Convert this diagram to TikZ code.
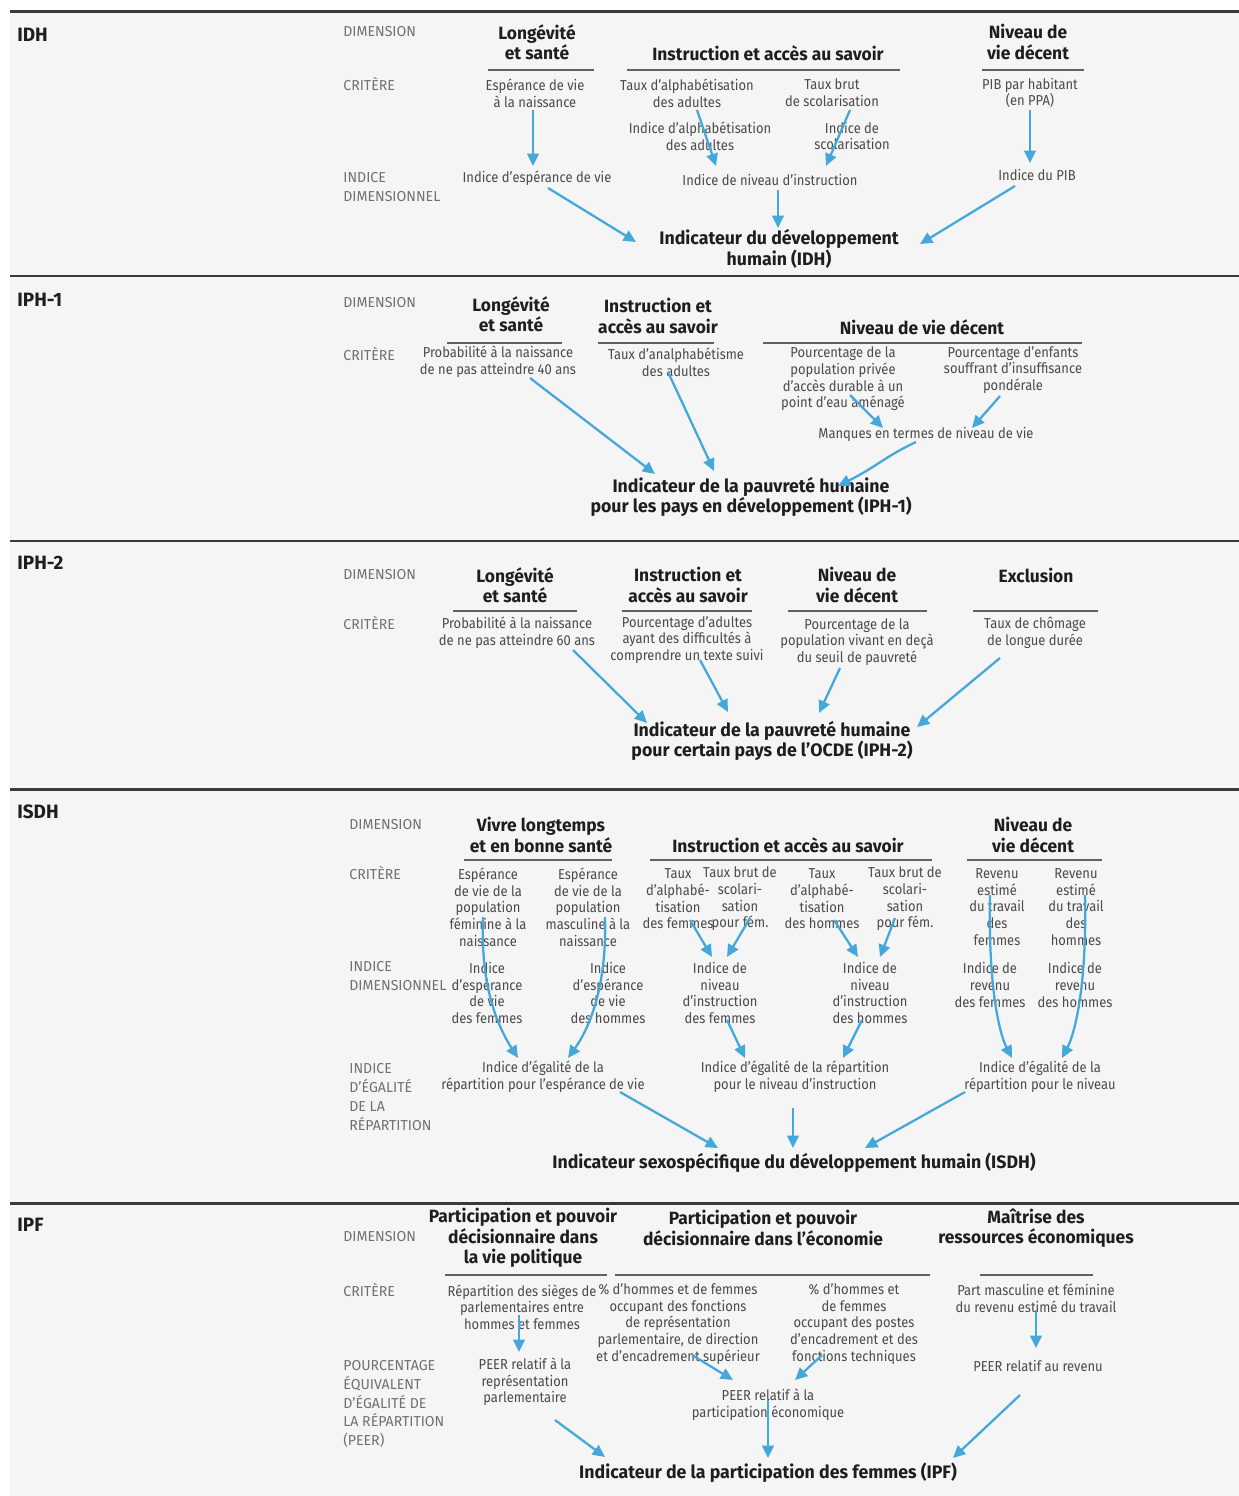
\documentclass[tikz,border=0pt]{standalone}
\usepackage{fontspec}
\setmainfont{Fira Sans}[FakeStretch=0.9]
\newfontfamily\headfont{Fira Sans}[FakeStretch=0.98, Ligatures=TeX]
\usetikzlibrary{arrows.meta,calc}
\definecolor{bgcol}{HTML}{F5F5F5}
\definecolor{rulecol}{HTML}{3A3A3A}
\definecolor{txtcol}{HTML}{1E1E1E}
\definecolor{critcol}{HTML}{4A4A4A}
\definecolor{labcol}{HTML}{707070}
\definecolor{arrcol}{HTML}{45A8DB}
\tikzset{
  sect/.style={anchor=west, inner sep=0pt, text=txtcol, font=\headfont\fontsize{11}{13}\selectfont\bfseries},
  rowlab/.style={anchor=west, align=left, inner sep=0pt, text=labcol, font=\headfont\fontsize{8.2}{10.8}\selectfont},
  dimtxt/.style={align=center, inner sep=0pt, text=txtcol, font=\headfont\fontsize{10.1}{11.6}\selectfont\bfseries},
  crit/.style={align=center, inner sep=0pt, text=critcol, font=\fontsize{8.2}{9.5}\selectfont},
  ttl/.style={dimtxt, font=\headfont\fontsize{10.3}{11.8}\selectfont\bfseries},
  arr/.style={draw=arrcol, line width=1.3pt, -{Triangle[length=7pt,width=6.5pt]}},
  dimrule/.style={draw=rulecol!80, line width=0.8pt},
  secrule/.style={draw=rulecol, line width=1.7pt}
}
\begin{document}
\begin{tikzpicture}[x=0.02cm, y=-0.02cm]
\useasboundingbox (0,0) rectangle (1239,1496);
\fill[bgcol] (10,12) rectangle (1239,1496);
\foreach \yy in {12,276,541,789,1203}
  \draw[secrule] (10,\yy) -- (1239,\yy);

% IDH
\node[sect] (idhL) at (17,35) {IDH};
\node[rowlab] (idhRd) at (343,32) {DIMENSION};
\node[rowlab] (idhRc) at (343,84) {CRITÈRE};
\node[rowlab] (idhRi) at (343,187) {INDICE\\DIMENSIONNEL};
\node[dimtxt] (idhD1) at (537,42) {Longévité\\et santé};
\node[dimtxt] (idhD2) at (768,53) {Instruction et accès au savoir};
\node[dimtxt] (idhD3) at (1028,42) {Niveau de\\vie décent};
\draw[dimrule] (488,70) -- (594,70);
\draw[dimrule] (627,70) -- (900,70);
\draw[dimrule] (982,70) -- (1084,70);
\node[crit] (idhC1) at (535,93) {Espérance de vie\\à la naissance};
\node[crit] (idhC2) at (687,93) {Taux d'alphabétisation\\des adultes};
\node[crit] (idhC3) at (832,93) {Taux brut\\de scolarisation};
\node[crit] (idhC4) at (1030,93) {PIB par habitant\\(en PPA)};
\node[crit] (idhS1) at (700,136) {Indice d'alphabétisation\\des adultes};
\node[crit] (idhS2) at (852,136) {Indice de\\scolarisation};
\node[crit] (idhI1) at (537,178) {Indice d'espérance de vie};
\node[crit] (idhI2) at (770,180) {Indice de niveau d'instruction};
\node[crit] (idhI3) at (1037,175) {Indice du PIB};
\node[ttl] (idhT) at (779,249) {Indicateur du développement\\humain (IDH)};
\draw[arr] ($(idhC1)+(-2,17)$) -- ($(idhI1)+(-4,-12)$);
\draw[arr] ($(idhC2)+(10,17)$) -- ($(idhI2)+(-54,-14)$);
\draw[arr] ($(idhC3)+(18,17)$) -- ($(idhI2)+(56,-14)$);
\draw[arr] ($(idhC4)+(0,17)$) -- ($(idhI3)+(-7,-12)$);
\draw[arr] ($(idhI1)+(11,10)$) -- ($(idhT)+(-143,-7)$);
\draw[arr] ($(idhI2)+(8,10)$) -- ($(idhT)+(-1,-21)$);
\draw[arr] ($(idhI3)+(-22,11)$) -- ($(idhT)+(141,-5)$);

% IPH-1
\node[sect] (h1L) at (17,300) {IPH-1};
\node[rowlab] (h1Rd) at (343,303) {DIMENSION};
\node[rowlab] (h1Rc) at (343,354) {CRITÈRE};
\node[dimtxt] (h1D1) at (511,314) {Longévité\\et santé};
\node[dimtxt] (h1D2) at (658,316) {Instruction et\\accès au savoir};
\node[dimtxt] (h1D3) at (922,327) {Niveau de vie décent};
\draw[dimrule] (447,343) -- (562,343);
\draw[dimrule] (598,343) -- (714,343);
\draw[dimrule] (763,343) -- (1082,343);
\node[crit] (h1C1) at (498,362) {Probabilité à la naissance\\de ne pas atteindre 40 ans};
\node[crit] (h1C2) at (676,362) {Taux d'analphabétisme\\des adultes};
\node[crit] (h1C3) at (843,379) {Pourcentage de la\\population privée\\d'accès durable à un\\point d'eau aménagé};
\node[crit] (h1C4) at (1013,370) {Pourcentage d'enfants\\souffrant d'insuffisance\\pondérale};
\node[crit] (h1M) at (926,434) {Manques en termes de niveau de vie};
\node[ttl] (h1T) at (751,497) {Indicateur de la pauvreté humaine\\pour les pays en développement (IPH-1)};
\draw[arr] ($(h1C1)+(32,16)$) -- ($(h1T)+(-96,-23)$);
\draw[arr] ($(h1C2)+(-8,10)$) -- ($(h1T)+(-37,-26)$);
\draw[arr] ($(h1C3)+(7,16)$) -- ($(h1M)+(-43,-6)$);
\draw[arr] ($(h1C4)+(-13,26)$) -- ($(h1M)+(46,-6)$);
\draw[arr] ($(h1M)+(-10,8)$) .. controls ($(h1M)+(-40,22)$) and ($(h1T)+(125,-30)$) .. ($(h1T)+(87,-11)$);

% IPH-2
\node[sect] (h2L) at (17,563) {IPH-2};
\node[rowlab] (h2Rd) at (343,575) {DIMENSION};
\node[rowlab] (h2Rc) at (343,623) {CRITÈRE};
\node[dimtxt] (h2D1) at (515,585) {Longévité\\et santé};
\node[dimtxt] (h2D2) at (688,585) {Instruction et\\accès au savoir};
\node[dimtxt] (h2D3) at (857,585) {Niveau de\\vie décent};
\node[dimtxt] (h2D4) at (1036,575) {Exclusion};
\draw[dimrule] (453,611) -- (577,611);
\draw[dimrule] (622,611) -- (752,611);
\draw[dimrule] (788,611) -- (927,611);
\draw[dimrule] (973,611) -- (1098,611);
\node[crit] (h2C1) at (517,633) {Probabilité à la naissance\\de ne pas atteindre 60 ans};
\node[crit] (h2C2) at (687,640) {Pourcentage d'adultes\\ayant des difficultés à\\comprendre un texte suivi};
\node[crit] (h2C3) at (857,642) {Pourcentage de la\\population vivant en deçà\\du seuil de pauvreté};
\node[crit] (h2C4) at (1035,633) {Taux de chômage\\de longue durée};
\node[ttl] (h2T) at (772,741) {Indicateur de la pauvreté humaine\\pour certain pays de l'OCDE (IPH-2)};
\draw[arr] ($(h2C1)+(56,17)$) -- ($(h2T)+(-125,-18)$);
\draw[arr] ($(h2C2)+(13,20)$) -- ($(h2T)+(-44,-29)$);
\draw[arr] ($(h2C3)+(-17,26)$) -- ($(h2T)+(47,-28)$);
\draw[arr] ($(h2C4)+(-35,25)$) -- ($(h2T)+(145,-14)$);

% ISDH
\node[sect] (sL) at (17,812) {ISDH};
\node[rowlab] (sRd) at (349,825) {DIMENSION};
\node[rowlab] (sRc) at (349,873) {CRITÈRE};
\node[rowlab] (sRi) at (349,976) {INDICE\\DIMENSIONNEL};
\node[rowlab] (sRe) at (349,1097) {INDICE\\D'ÉGALITÉ\\DE LA\\RÉPARTITION};
\node[dimtxt] (sD1) at (541,835) {Vivre longtemps\\et en bonne santé};
\node[dimtxt] (sD2) at (788,845) {Instruction et accès au savoir};
\node[dimtxt] (sD3) at (1033,835) {Niveau de\\vie décent};
\draw[dimrule] (464,860) -- (612,860);
\draw[dimrule] (650,860) -- (932,860);
\draw[dimrule] (967,860) -- (1102,860);
\node[crit] (sC1) at (488,907) {Espérance\\de vie de la\\population\\féminine à la\\naissance};
\node[crit] (sC2) at (588,907) {Espérance\\de vie de la\\population\\masculine à la\\naissance};
\node[crit] (sC3) at (678,899) {Taux\\d'alphabé-\\tisation\\des femmes};
\node[crit] (sC4) at (740,899) {Taux brut de\\scolari-\\sation\\pour fém.};
\node[crit] (sC5) at (822,899) {Taux\\d'alphabé-\\tisation\\des hommes};
\node[crit] (sC6) at (905,899) {Taux brut de\\scolari-\\sation\\pour fém.};
\node[crit] (sC7) at (997,907) {Revenu\\estimé\\du travail\\des\\femmes};
\node[crit] (sC8) at (1076,907) {Revenu\\estimé\\du travail\\des\\hommes};
\node[crit] (sI1) at (487,993) {Indice\\d'espérance\\de vie\\des femmes};
\node[crit] (sI2) at (608,993) {Indice\\d'espérance\\de vie\\des hommes};
\node[crit] (sI3) at (720,993) {Indice de\\niveau\\d'instruction\\des femmes};
\node[crit] (sI4) at (870,993) {Indice de\\niveau\\d'instruction\\des hommes};
\node[crit] (sI5) at (990,985) {Indice de\\revenu\\des femmes};
\node[crit] (sI6) at (1075,985) {Indice de\\revenu\\des hommes};
\node[crit] (sE1) at (543,1077) {Indice d'égalité de la\\répartition pour l'espérance de vie};
\node[crit] (sE2) at (795,1077) {Indice d'égalité de la répartition\\pour le niveau d'instruction};
\node[crit] (sE3) at (1040,1077) {Indice d'égalité de la\\répartition pour le niveau};
\node[ttl] (sT) at (794,1163) {Indicateur sexospécifique du développement humain (ISDH)};
\draw[arr] ($(sC1)+(-5,10)$) .. controls ($(sC1)+(-8,83)$) and ($(sE1)+(-43,-47)$) .. ($(sE1)+(-25,-19)$);
\draw[arr] ($(sC2)+(17,10)$) .. controls ($(sC2)+(19,83)$) and ($(sE1)+(45,-47)$) .. ($(sE1)+(25,-19)$);
\draw[arr] ($(sC3)+(12,21)$) -- ($(sI3)+(-8,-36)$);
\draw[arr] ($(sC4)+(10,19)$) -- ($(sI3)+(7,-36)$);
\draw[arr] ($(sC5)+(12,21)$) -- ($(sI4)+(-12,-36)$);
\draw[arr] ($(sC6)+(-10,19)$) -- ($(sI4)+(10,-36)$);
\draw[arr] ($(sC7)+(-7,-12)$) .. controls ($(sC7)+(-9,83)$) and ($(sE3)+(-40,-42)$) .. ($(sE3)+(-28,-19)$);
\draw[arr] ($(sC8)+(9,-12)$) .. controls ($(sC8)+(11,83)$) and ($(sE3)+(34,-42)$) .. ($(sE3)+(22,-19)$);
\draw[arr] ($(sI3)+(7,27)$) -- ($(sE2)+(-50,-19)$);
\draw[arr] ($(sI4)+(-8,27)$) -- ($(sE2)+(48,-19)$);
\draw[arr] ($(sE1)+(77,15)$) -- ($(sT)+(-76,-15)$);
\draw[arr] ($(sE2)+(-2,31)$) -- ($(sT)+(-1,-15)$);
\draw[arr] ($(sE3)+(-75,15)$) -- ($(sT)+(71,-15)$);

% IPF
\node[sect] (pL) at (17,1225) {IPF};
\node[rowlab] (pRd) at (343,1237) {DIMENSION};
\node[rowlab] (pRc) at (343,1290) {CRITÈRE};
\node[rowlab] (pRp) at (343,1404) {POURCENTAGE\\ÉQUIVALENT\\D'ÉGALITÉ DE\\LA RÉPARTITION\\(PEER)};
\node[dimtxt] (pD1) at (523,1238) {Participation et pouvoir\\décisionnaire dans\\la vie politique};
\node[dimtxt] (pD2) at (763,1228) {Participation et pouvoir\\décisionnaire dans l'économie};
\node[dimtxt] (pD3) at (1036,1228) {Maîtrise des\\ressources économiques};
\draw[dimrule] (445,1275) -- (607,1275);
\draw[dimrule] (615,1275) -- (930,1275);
\draw[dimrule] (980,1275) -- (1093,1275);
\node[crit] (pC1) at (522,1307) {Répartition des sièges de\\parlementaires entre\\hommes et femmes};
\node[crit] (pC2) at (678,1324) {\% d'hommes et de femmes\\occupant des fonctions\\de représentation\\parlementaire, de direction\\et d'encadrement supérieur};
\node[crit] (pC3) at (854,1324) {\% d'hommes et\\de femmes\\occupant des postes\\d'encadrement et des\\fonctions techniques};
\node[crit] (pC4) at (1036,1298) {Part masculine et féminine\\du revenu estimé du travail};
\node[crit] (pP1) at (525,1382) {PEER relatif à la\\représentation\\parlementaire};
\node[crit] (pP2) at (768,1405) {PEER relatif à la\\participation économique};
\node[crit] (pP3) at (1038,1366) {PEER relatif au revenu};
\node[ttl] (pT) at (768,1473) {Indicateur de la participation des femmes (IPF)};
\draw[arr] ($(pC1)+(-3,8)$) -- ($(pP1)+(-6,-30)$);
\draw[arr] ($(pC2)+(14,31)$) -- ($(pP2)+(-35,-25)$);
\draw[arr] ($(pC3)+(-32,31)$) -- ($(pP2)+(27,-25)$);
\draw[arr] ($(pC4)+(0,12)$) -- ($(pP3)+(-2,-18)$);
\draw[arr] ($(pP2)+(0,-5)$) -- ($(pT)+(0,-15)$);
\draw[arr] ($(pP1)+(30,38)$) -- ($(pT)+(-163,-16)$);
\draw[arr] ($(pP3)+(-18,29)$) -- ($(pT)+(185,-15)$);
\end{tikzpicture}
\end{document}
